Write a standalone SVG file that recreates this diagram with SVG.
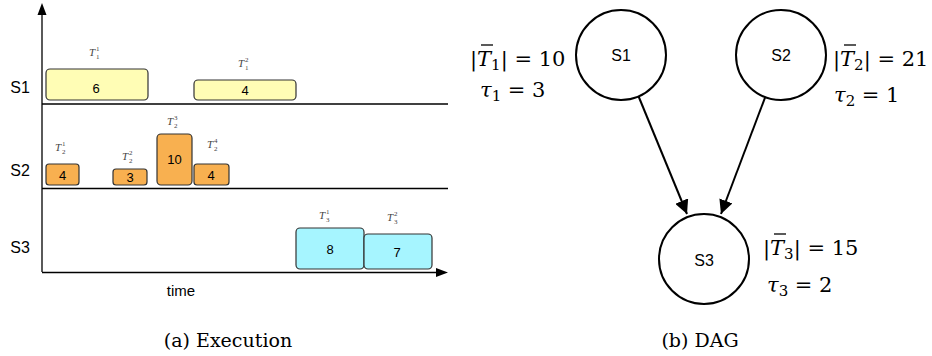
<svg xmlns="http://www.w3.org/2000/svg" width="932" height="356" viewBox="0 0 932 356">
<style>
.ax{stroke:#000;stroke-width:1.3;fill:none}
.box{stroke:#333;stroke-width:1.2}
.y{fill:#FFFDB5}
.o{fill:#F8B050}
.c{fill:#A6F5FF}
.num{font-family:"Liberation Sans",Arial,sans-serif;font-size:13px;fill:#000;text-anchor:middle}
.lane{font-family:"Liberation Sans",Arial,sans-serif;font-size:16px;fill:#000;text-anchor:middle}
.tl{font-family:"Liberation Serif",serif;font-style:italic;font-size:11px;fill:#444}
.ts{font-family:"Liberation Serif",serif;font-size:7px;fill:#444}
.node{fill:#fff;stroke:#000;stroke-width:2}
.nl{font-family:"Liberation Sans",Arial,sans-serif;font-size:16px;fill:#000;text-anchor:middle}
.m{font-family:"DejaVu Serif",serif;font-size:21px;fill:#000}
.mi{font-style:italic}
.cap{font-family:"DejaVu Serif",serif;font-size:19px;fill:#000;text-anchor:middle}
.edge{stroke:#000;stroke-width:2;fill:none}
.bar{stroke:#000;stroke-width:1.3}
</style>
<defs>
<marker id="ah2" viewBox="0 0 10 10" refX="10" refY="5" markerWidth="14" markerHeight="14" markerUnits="userSpaceOnUse" orient="auto">
<path d="M0,0 L10,5 L0,10 z" fill="#000"/>
</marker>
</defs>

<g id="axes">
<line class="ax" x1="42" y1="272" x2="42" y2="14"/>
<path d="M42,3 L37.5,15 L46.5,15 z" fill="#000"/>
<line class="ax" x1="42" y1="272.5" x2="437" y2="272.5"/>
<path d="M448,272.5 L436,268 L436,277 z" fill="#000"/>
<line class="ax" x1="42" y1="104" x2="448" y2="104"/>
<line class="ax" x1="42" y1="188.5" x2="448" y2="188.5"/>
<text class="lane" x="20" y="93">S1</text>
<text class="lane" x="20" y="176">S2</text>
<text class="lane" x="20" y="253">S3</text>
<text class="num" x="181" y="296" style="font-size:15px">time</text>
</g>

<g id="s1-tasks">
<rect class="box y" x="46" y="69" width="102" height="31" rx="4"/>
<text class="num" x="96" y="93">6</text>
<rect class="box y" x="194" y="80" width="102" height="20" rx="4"/>
<text class="num" x="245" y="95">4</text>
<text class="tl" x="89" y="56">T</text><text class="ts" x="96" y="51">1</text><text class="ts" x="96" y="59">1</text>
<text class="tl" x="238" y="67">T</text><text class="ts" x="245" y="62">2</text><text class="ts" x="245" y="70">1</text>
</g>

<g id="s2-tasks">
<rect class="box o" x="46" y="164" width="33" height="21" rx="3"/>
<text class="num" x="62.5" y="179.5">4</text>
<rect class="box o" x="113" y="169" width="34" height="16" rx="3"/>
<text class="num" x="130" y="182">3</text>
<rect class="box o" x="157" y="134" width="35" height="51" rx="4"/>
<text class="num" x="174.5" y="164">10</text>
<rect class="box o" x="194" y="164" width="35" height="21" rx="3"/>
<text class="num" x="211" y="179.5">4</text>
<text class="tl" x="55" y="151">T</text><text class="ts" x="62" y="146">1</text><text class="ts" x="62" y="154">2</text>
<text class="tl" x="122" y="160">T</text><text class="ts" x="129" y="155">2</text><text class="ts" x="129" y="163">2</text>
<text class="tl" x="167" y="125">T</text><text class="ts" x="174" y="120">3</text><text class="ts" x="174" y="128">2</text>
<text class="tl" x="207" y="148">T</text><text class="ts" x="214" y="143">4</text><text class="ts" x="214" y="151">2</text>
</g>

<g id="s3-tasks">
<rect class="box c" x="296" y="228" width="68" height="41" rx="4"/>
<text class="num" x="330" y="254">8</text>
<rect class="box c" x="364" y="234" width="68" height="35" rx="4"/>
<text class="num" x="397" y="257">7</text>
<text class="tl" x="319" y="219">T</text><text class="ts" x="326" y="214">1</text><text class="ts" x="326" y="222">3</text>
<text class="tl" x="387" y="221">T</text><text class="ts" x="394" y="216">2</text><text class="ts" x="394" y="224">3</text>
</g>

<g id="connectors">
<line class="edge" x1="638" y1="95" x2="687" y2="214" marker-end="url(#ah2)"/>
<line class="edge" x1="766" y1="95" x2="721" y2="214" marker-end="url(#ah2)"/>
</g>

<g id="node-S1">
<circle class="node" cx="621" cy="55" r="45"/>
<text class="nl" x="621" y="61">S1</text>
<text class="m" x="470" y="66">|<tspan class="mi">T</tspan><tspan font-size="15" dy="4">1</tspan><tspan dy="-4">| = 10</tspan></text>
<line class="bar" x1="481" y1="45" x2="493" y2="45"/>
<text class="m" x="480" y="97"><tspan class="mi">τ</tspan><tspan font-size="15" dy="4">1</tspan><tspan dy="-4"> = 3</tspan></text>
</g>

<g id="node-S2">
<circle class="node" cx="781" cy="55" r="45"/>
<text class="nl" x="781" y="61">S2</text>
<text class="m" x="833" y="66">|<tspan class="mi">T</tspan><tspan font-size="15" dy="4">2</tspan><tspan dy="-4">| = 21</tspan></text>
<line class="bar" x1="844" y1="45" x2="856" y2="45"/>
<text class="m" x="834" y="102"><tspan class="mi">τ</tspan><tspan font-size="15" dy="4">2</tspan><tspan dy="-4"> = 1</tspan></text>
</g>

<g id="node-S3">
<circle class="node" cx="704" cy="259" r="45"/>
<text class="nl" x="704" y="266">S3</text>
<text class="m" x="763" y="255">|<tspan class="mi">T</tspan><tspan font-size="15" dy="4">3</tspan><tspan dy="-4">| = 15</tspan></text>
<line class="bar" x1="774" y1="234" x2="786" y2="234"/>
<text class="m" x="767" y="292"><tspan class="mi">τ</tspan><tspan font-size="15" dy="4">3</tspan><tspan dy="-4"> = 2</tspan></text>
</g>

<g id="captions">
<text class="cap" x="228" y="347">(a) Execution</text>
<text class="cap" x="700" y="347">(b) DAG</text>
</g>
</svg>
